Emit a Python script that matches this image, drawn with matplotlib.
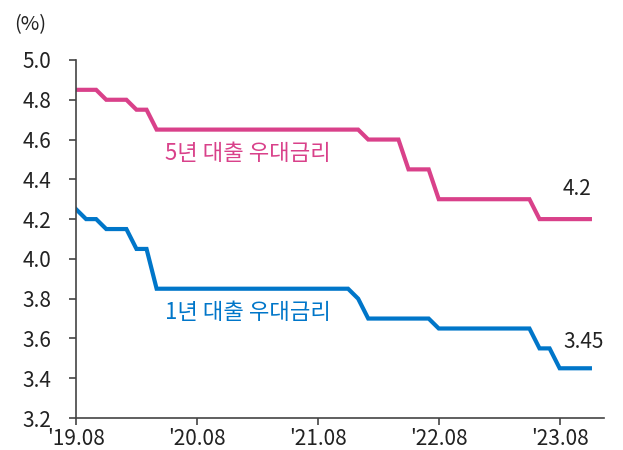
import matplotlib
matplotlib.use("Agg")
import matplotlib.pyplot as plt

plt.rcParams['font.family'] = ['Noto Sans CJK KR', 'DejaVu Sans']

# 월별 우대금리, '19.08 ~ '23.11
rate_5y = [4.85, 4.85, 4.85, 4.80, 4.80, 4.80, 4.75, 4.75] + [4.65] * 21 \
    + [4.60] * 4 + [4.45] * 3 + [4.30] * 10 + [4.20] * 6
rate_1y = [4.25, 4.20, 4.20, 4.15, 4.15, 4.15, 4.05, 4.05] + [3.85] * 20 \
    + [3.80] + [3.70] * 7 + [3.65] * 10 + [3.55] * 2 + [3.45] * 4
tick_pos = [0, 12, 24, 36, 48]
tick_labels = ["'19.08", "'20.08", "'21.08", "'22.08", "'23.08"]
yticks = [3.2, 3.4, 3.6, 3.8, 4.0, 4.2, 4.4, 4.6, 4.8, 5.0]

pink = '#D9418A'
blue = '#0076C9'
txt = '#222222'

fig = plt.figure(figsize=(6.23, 4.5), dpi=100)
ax = fig.add_axes([0.122, 0.0711, 0.8475, 0.7956])

months = list(range(len(rate_5y)))
ax.plot(months, rate_5y, color=pink, lw=3, solid_joinstyle='miter')
ax.plot(months, rate_1y, color=blue, lw=3, solid_joinstyle='miter')

ax.set_xlim(0, 52.4)
ax.set_ylim(3.2, 5.0)
ax.set_xticks(tick_pos)
ax.set_xticklabels(tick_labels)
ax.set_yticks(yticks)
ax.set_yticklabels([f'{v:.1f}' for v in yticks])

for s in ['top', 'right']:
    ax.spines[s].set_visible(False)
for s in ['left', 'bottom']:
    ax.spines[s].set_color('#444444')
    ax.spines[s].set_linewidth(1.2)
ax.tick_params(direction='out', length=5, width=1.2, color='#444444',
               labelsize=15, labelcolor=txt)
ax.tick_params(axis='y', pad=13)
ax.tick_params(axis='x', pad=2)

ax.text(8.8, 4.53, '5년 대출 우대금리', color=pink, fontsize=16,
        va='center', ha='left')
ax.text(8.8, 3.73, '1년 대출 우대금리', color=blue, fontsize=16,
        va='center', ha='left')
ax.text(51.1, 4.35, str(rate_5y[-1]), color=txt, fontsize=15,
        ha='right', va='center')
ax.text(52.4, 3.58, str(rate_1y[-1]), color=txt, fontsize=15,
        ha='right', va='center')

fig.text(0.022, 0.945, '(%)', color=txt, fontsize=14.5, ha='left', va='center')

fig.savefig('out.png', dpi=100)
